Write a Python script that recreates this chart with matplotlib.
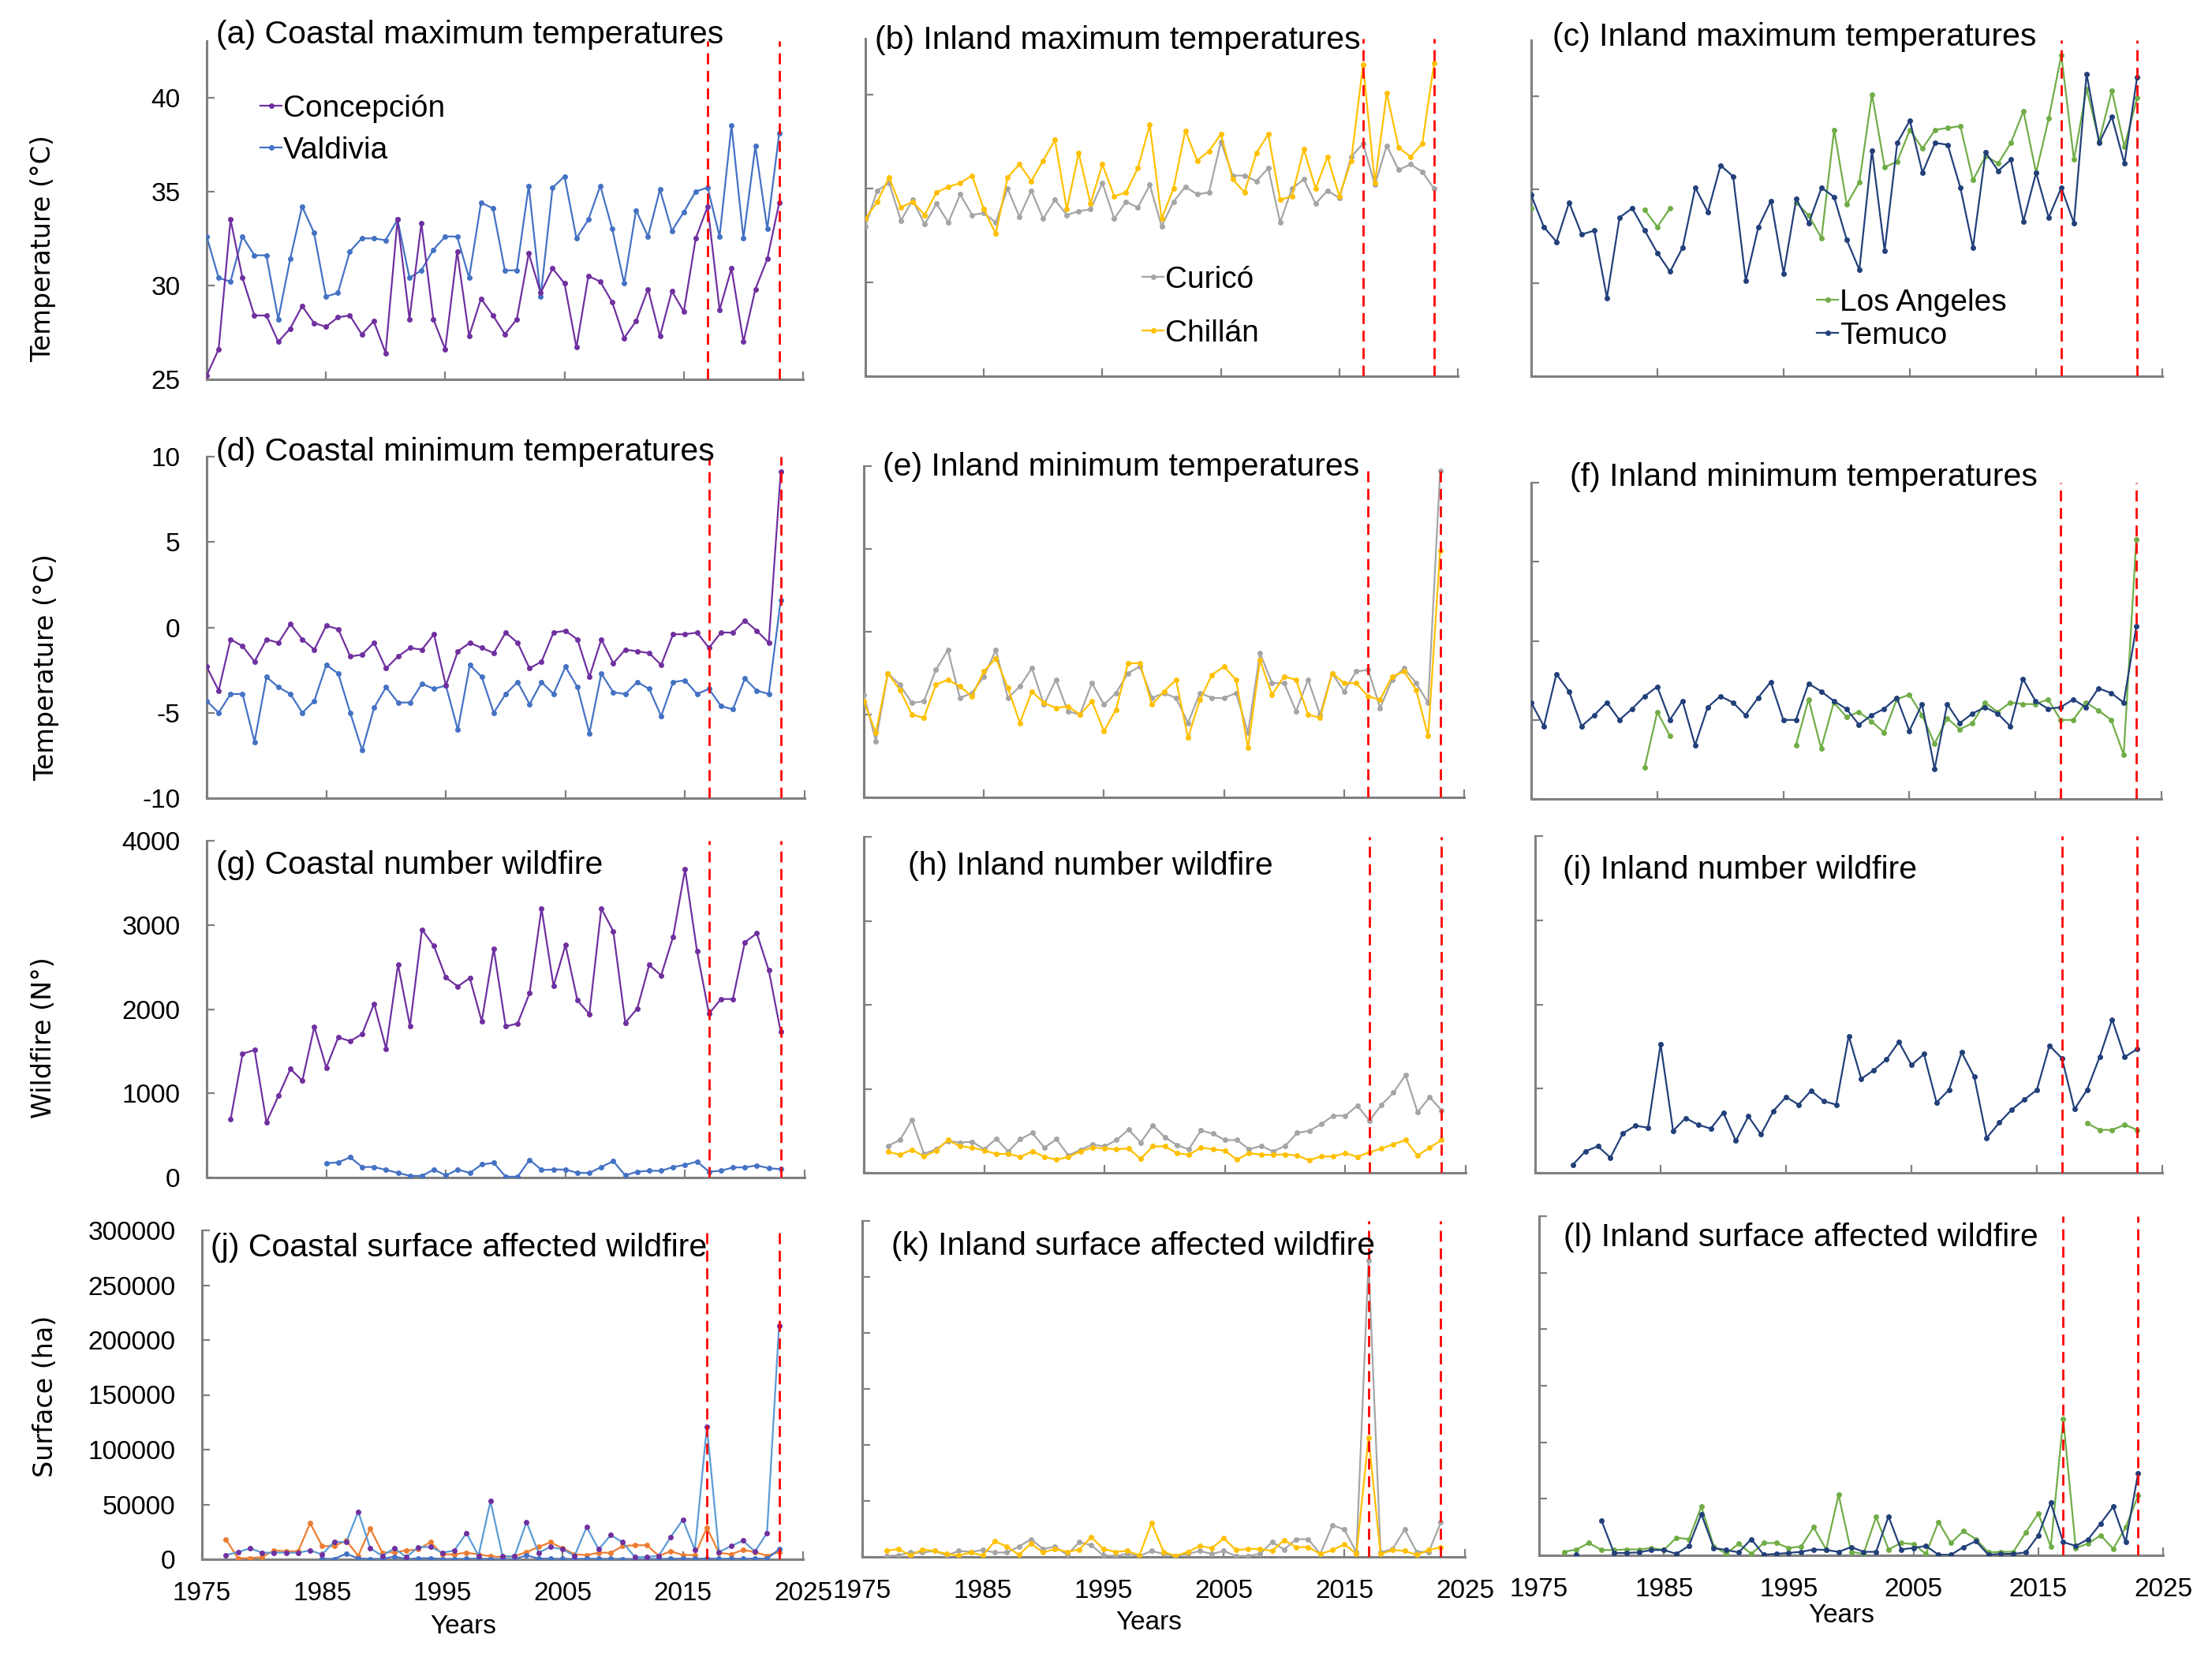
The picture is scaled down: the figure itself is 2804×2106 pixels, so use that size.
import matplotlib
matplotlib.use('agg')
import matplotlib.pyplot as plt
import numpy as np

plt.rcParams['font.family'] = ['Liberation Sans', 'DejaVu Sans']

nan = float('nan')
years = np.arange(1975, 2024)

# ---- maximum temperatures (1975-2023)
conc_tmax = [25.2, 26.6, 33.5, 30.4, 28.4, 28.4, 27.0, 27.7, 28.9, 28.0,
             27.8, 28.3, 28.4, 27.4, 28.1, 26.4, 33.5, 28.2, 33.3, 28.2,
             26.6, 31.8, 27.3, 29.3, 28.4, 27.4, 28.2, 31.7, 29.6, 30.9,
             30.1, 26.7, 30.5, 30.2, 29.1, 27.2, 28.1, 29.8, 27.3, 29.7,
             28.6, 32.5, 34.2, 28.7, 30.9, 27.0, 29.8, 31.4, 34.4]
vald_tmax = [32.6, 30.4, 30.2, 32.6, 31.6, 31.6, 28.2, 31.4, 34.2, 32.8,
             29.4, 29.6, 31.8, 32.5, 32.5, 32.4, 33.5, 30.4, 30.8, 31.9,
             32.6, 32.6, 30.4, 34.4, 34.1, 30.8, 30.8, 35.3, 29.4, 35.2,
             35.8, 32.5, 33.5, 35.3, 33.0, 30.1, 34.0, 32.6, 35.1, 32.9,
             33.9, 35.0, 35.2, 32.6, 38.5, 32.5, 37.4, 33.0, 38.1]
curi_tmax = [33.0, 34.9, 35.3, 33.3, 34.4, 33.1, 34.2, 33.2, 34.7, 33.6,
             33.7, 33.2, 35.0, 33.5, 34.9, 33.4, 34.4, 33.6, 33.8, 33.9,
             35.3, 33.4, 34.3, 34.0, 35.2, 33.0, 34.3, 35.1, 34.7, 34.8,
             37.5, 35.7, 35.7, 35.4, 36.1, 33.2, 35.0, 35.5, 34.2, 34.9,
             34.5, 36.7, 37.4, 35.2, 37.3, 36.0, 36.3, 35.9, 35.0]
chil_tmax = [33.4, 34.3, 35.6, 34.0, 34.3, 33.6, 34.8, 35.1, 35.3, 35.7,
             33.9, 32.6, 35.6, 36.3, 35.4, 36.5, 37.6, 33.9, 36.9, 34.2,
             36.3, 34.6, 34.8, 36.1, 38.4, 33.4, 35.0, 38.1, 36.5, 37.0,
             37.9, 35.5, 34.8, 36.9, 37.9, 34.4, 34.6, 37.1, 35.0, 36.7,
             34.6, 36.5, 41.6, 35.3, 40.1, 37.2, 36.7, 37.4, 41.7]
temu_tmax = [34.7, 33.0, 32.2, 34.3, 32.6, 32.8, 29.2, 33.5, 34.0, 32.8,
             31.6, 30.6, 31.9, 35.1, 33.8, 36.3, 35.7, 30.1, 33.0, 34.4,
             30.5, 34.5, 33.2, 35.1, 34.6, 32.3, 30.7, 37.1, 31.7, 37.5,
             38.7, 35.9, 37.5, 37.4, 35.1, 31.9, 37.0, 36.0, 36.6, 33.3,
             35.9, 33.5, 35.1, 33.2, 41.2, 37.5, 38.9, 36.4, 41.0]
lang_tmax = [34.0, nan, nan, nan, nan, nan, nan, nan, nan, 33.9,
             33.0, 34.0, nan, nan, nan, nan, nan, nan, nan, nan,
             nan, 34.3, 33.6, 32.4, 38.2, 34.2, 35.4, 40.1, 36.2, 36.5,
             38.2, 37.2, 38.2, 38.3, 38.4, 35.5, 36.8, 36.4, 37.5, 39.2,
             35.9, 38.8, 42.2, 36.6, 40.4, 37.6, 40.3, 37.3, 39.9]

# ---- minimum temperatures (1975-2023)
conc_tmin = [-2.3, -3.7, -0.7, -1.1, -2.0, -0.7, -0.9, 0.2, -0.7, -1.3,
             0.1, -0.1, -1.7, -1.6, -0.9, -2.4, -1.7, -1.2, -1.3, -0.4,
             -3.4, -1.4, -0.9, -1.2, -1.5, -0.3, -0.9, -2.4, -2.0, -0.3,
             -0.2, -0.7, -2.9, -0.7, -2.1, -1.3, -1.4, -1.5, -2.2, -0.4,
             -0.4, -0.3, -1.2, -0.3, -0.3, 0.4, -0.2, -0.9, 9.1]
vald_tmin = [-4.3, -5.0, -3.9, -3.9, -6.7, -2.9, -3.5, -3.9, -5.0, -4.3,
             -2.2, -2.7, -5.0, -7.2, -4.7, -3.5, -4.4, -4.4, -3.3, -3.6,
             -3.4, -6.0, -2.2, -2.9, -5.0, -3.9, -3.2, -4.5, -3.2, -3.9,
             -2.3, -3.5, -6.2, -2.7, -3.8, -3.9, -3.2, -3.6, -5.2, -3.2,
             -3.1, -3.9, -3.6, -4.6, -4.8, -3.0, -3.7, -3.9, 1.6]
curi_tmin = [-3.8, -6.6, -2.5, -3.2, -4.3, -4.2, -2.3, -1.1, -4.0, -3.7,
             -2.7, -1.1, -4.0, -3.3, -2.2, -4.4, -2.9, -4.8, -5.0, -3.1,
             -4.4, -3.7, -2.5, -2.1, -4.0, -3.7, -4.0, -5.5, -3.7, -4.0,
             -4.0, -3.7, -6.1, -1.3, -3.1, -3.1, -4.8, -2.9, -5.0, -2.5,
             -3.6, -2.4, -2.3, -4.6, -2.9, -2.2, -3.1, -4.3, 9.7]
chil_tmin = [-4.2, -6.1, -2.5, -3.5, -5.0, -5.2, -3.2, -2.9, -3.3, -3.9,
             -2.4, -1.6, -3.4, -5.5, -3.6, -4.3, -4.6, -4.5, -5.0, -4.2,
             -6.0, -4.7, -1.9, -1.9, -4.4, -3.6, -2.9, -6.4, -4.1, -2.6,
             -2.1, -2.9, -7.0, -1.7, -3.8, -2.7, -2.9, -5.0, -5.2, -2.5,
             -3.1, -3.1, -3.9, -4.1, -2.7, -2.4, -3.5, -6.3, 4.9]
temu_tmin = [-3.9, -5.4, -2.1, -3.2, -5.4, -4.7, -3.9, -5.0, -4.3, -3.5,
             -2.9, -5.0, -3.8, -6.6, -4.2, -3.5, -3.9, -4.7, -3.6, -2.6,
             -5.0, -5.0, -2.7, -3.2, -3.8, -4.3, -5.3, -4.7, -4.3, -3.6,
             -5.7, -4.0, -8.1, -4.0, -5.2, -4.6, -4.2, -4.6, -5.4, -2.4,
             -3.8, -4.3, -4.2, -3.7, -4.2, -3.0, -3.3, -3.9, 0.9]
lang_tmin = [nan, nan, nan, nan, nan, nan, nan, nan, nan, -8.0,
             -4.5, -6.0, nan, nan, nan, nan, nan, nan, nan, nan,
             nan, -6.6, -3.7, -6.8, -3.9, -4.8, -4.5, -5.1, -5.8, -3.7,
             -3.4, -4.7, -6.5, -4.9, -5.6, -5.2, -3.9, -4.5, -3.9, -4.0,
             -4.0, -3.7, -5.0, -5.0, -3.9, -4.4, -5.0, -7.2, 6.4]

# ---- number of wildfires (first year noted on each list)
conc_fire = [690, 1470, 1515, 655, 970, 1290, 1150, 1790, 1305, 1665,
             1620, 1705, 2065, 1530, 2530, 1800, 2945, 2750, 2375, 2270,
             2370, 1855, 2720, 1795, 1830, 2190, 3195, 2275, 2760, 2105,
             1940, 3195, 2925, 1840, 2005, 2525, 2400, 2860, 3660, 2690,
             1945, 2120, 2120, 2795, 2900, 2460, 1730]            # from 1977
vald_fire = [170, 180, 240, 125, 125, 90, 55, 20, 20, 95,
             25, 95, 55, 155, 175, 10, 10, 210, 90, 95,
             95, 55, 55, 125, 195, 25, 70, 80, 80, 125,
             150, 190, 70, 80, 120, 120, 145, 110, 100]            # from 1985
curi_fire = [320, 390, 630, 225, 280, 380, 360, 370, 280, 405,
             255, 400, 475, 300, 400, 205, 275, 335, 315, 390,
             515, 360, 565, 425, 330, 280, 505, 465, 390, 390,
             280, 320, 255, 320, 475, 500, 580, 680, 680, 800,
             620, 810, 955, 1165, 720, 900, 745]                    # from 1977
chil_fire = [250, 215, 275, 195, 265, 390, 315, 300, 265, 225,
             225, 190, 255, 190, 155, 190, 255, 300, 290, 280,
             290, 165, 315, 315, 235, 215, 300, 280, 265, 155,
             235, 215, 215, 220, 205, 150, 195, 195, 235, 190,
             245, 290, 340, 390, 205, 300, 390]                     # from 1977
temu_fire = [95, 255, 315, 180, 470, 560, 535, 1530, 500, 650,
             570, 525, 715, 380, 670, 455, 735, 900, 810, 975,
             850, 810, 1625, 1115, 1220, 1345, 1555, 1280, 1410, 835,
             985, 1430, 1145, 415, 595, 750, 870, 985, 1510, 1360,
             755, 985, 1375, 1820, 1375, 1470]                      # from 1978
lang_fire = [590, 510, 510, 570, 510]                               # from 2019

# ---- surface affected (ha)
coast_surf_a = [3800, 6500, 10000, 6000, 6000, 6000, 6000, 8000, 4500, 16000,
                15500, 43500, 10000, 3200, 10000, 2000, 11000, 11300, 6000, 8000,
                24000, 3200, 53000, 2700, 2700, 34000, 6000, 11300, 9000, 3200,
                29500, 9000, 22000, 15500, 2000, 2000, 3200, 20500, 36000, 8500,
                121000, 6500, 12000, 17000, 7000, 24000, 213000]    # from 1977
coast_surf_b = [18000, 1000, 1000, 2000, 8000, 7300, 7300, 33000, 12000, 12000,
                17000, 3200, 28000, 6000, 6500, 8000, 9000, 15500, 4500, 4500,
                6000, 4500, 2700, 2000, 2700, 6500, 11300, 15500, 10000, 4500,
                3800, 6000, 6000, 12000, 12800, 12800, 3200, 7300, 3800, 3800,
                28800, 6000, 4500, 8500, 6500, 3200, 6500]          # from 1977
coast_surf_c = [500, 300, 5000, 800, 300, 400, 2500, 200, 800, 1000,
                300, 300, 400, 600, 300, 200, 200, 3500, 600, 500,
                400, 300, 500, 400, 400, 300, 200, 200, 300, 500,
                600, 400, 700, 400, 500, 400, 600, 500, 9000]       # from 1985
curi_surf = [800, 1300, 3900, 3900, 5300, 1300, 5300, 4500, 6100, 3900,
             3900, 9200, 15800, 7100, 9200, 1800, 13200, 10500, 1300, 800,
             2600, 800, 5300, 2600, 800, 2600, 5300, 2600, 5300, 800,
             800, 2600, 13200, 6600, 15800, 15800, 2600, 28200, 24500, 3900,
             264500, 3900, 7100, 24500, 4500, 4500, 30800]          # from 1977
chil_surf = [5300, 7100, 1300, 6600, 5300, 2600, 1300, 3900, 1300, 14000,
             9200, 1800, 12000, 3900, 7100, 4500, 6600, 17600, 7100, 4500,
             5300, 1300, 30300, 4500, 800, 4500, 9700, 7900, 16600, 6100,
             7100, 7100, 5300, 15000, 8700, 8700, 2600, 6100, 11300, 2600,
             106600, 2600, 6100, 5300, 1800, 6100, 8700]            # from 1977
lang_surf = [3100, 5200, 10900, 4700, 4700, 5200, 5200, 6500, 4700, 15600,
             14300, 43000, 7800, 1300, 10400, 1300, 10900, 10900, 6500, 7800,
             24800, 5200, 53500, 3100, 1300, 33900, 5200, 10900, 9900, 1300,
             29500, 10900, 21400, 14300, 2600, 3100, 3100, 20300, 37000, 7800,
             120500, 6500, 10400, 17700, 5700, 24800, 52700]        # from 1977
temu_surf = [500, nan, 30800, 2100, 2100, 2600, 4700, 4700, 1300, 8300,
             36500, 6500, 4700, 2600, 14300, 500, 1300, 2100, 3100, 5200,
             4700, 3100, 7300, 3100, 3100, 34400, 5200, 6500, 8300, 500,
             500, 7300, 12500, 500, 1300, 1300, 2600, 17700, 46400, 11700,
             8300, 14300, 28200, 43000, 11700, 72500]               # from 1978

event_years = [2017, 2023]

PURPLE, BLUE, GREY, GOLD = '#7030A0', '#4472C4', '#A5A5A5', '#FFC000'
GREEN, NAVY, LBLUE, ORANGE = '#70AD47', '#22407A', '#5B9BD5', '#ED7D31'
AXC = '#808080'

W, H = 2804, 2106
fig = plt.figure(figsize=(W / 100, H / 100), dpi=100)


def on_years(vals, start=1975):
    out = np.full(len(years), np.nan)
    out[start - 1975:start - 1975 + len(vals)] = vals
    return out


def panel(x0, x1, ytop, ybot, ylim, yticks, ylabels=None, xlabels=False):
    ax = fig.add_axes([x0 / W, 1 - ybot / H, (x1 - x0) / W, (ybot - ytop) / H])
    ax.patch.set_visible(False)
    ax.set_xlim(1975, 2025)
    ax.set_ylim(*ylim)
    ax.set_xticks(range(1975, 2026, 10))
    ax.set_yticks(yticks)
    for s in ('top', 'right'):
        ax.spines[s].set_visible(False)
    for s in ('left', 'bottom'):
        ax.spines[s].set_color(AXC)
        ax.spines[s].set_linewidth(2.2)
    ax.tick_params(direction='in', length=7, width=1.6, color=AXC, labelsize=24)
    ax.tick_params(axis='x', pad=20)
    ax.tick_params(axis='y', pad=24)
    if not xlabels:
        ax.set_xticklabels([])
    if ylabels is None:
        ax.set_yticklabels([])
    else:
        ax.set_yticklabels(ylabels)
    for yr in event_years:
        ax.axvline(yr, color='#FF0000', lw=2, ls=(0, (5, 3)), zorder=5)
    return ax


def line(ax, y, color, mcolor=None, label=None):
    mc = mcolor or color
    return ax.plot(years, y, color=color, lw=1.6, marker='o', ms=4, mfc=mc,
                   mec=mc, label=label, zorder=3)[0]


def title(x, y, text):
    fig.text(x / W, 1 - y / H, text, fontsize=29.5, ha='left', va='center')


def legend(ax, handles, x, y, spacing):
    ax.legend(handles=handles, loc='upper left', bbox_to_anchor=(x / W, 1 - y / H),
              bbox_transform=fig.transFigure, frameon=False, fontsize=28,
              handlelength=0.7, handletextpad=0.05, borderpad=0,
              borderaxespad=0, labelspacing=spacing, numpoints=1)


def ylab(ax, text, xa, ya):
    ax.set_ylabel(text, family='DejaVu Sans', fontsize=24)
    ax.yaxis.set_label_coords(xa, ya)
    ax.yaxis.label.set_va('center')


def xlab(ax, xa, ya):
    ax.set_xlabel('Years', fontsize=24)
    ax.xaxis.set_label_coords(xa, ya)
    ax.xaxis.label.set_va('center')


t_ticks = [25, 30, 35, 40]
m_ticks = [-10, -5, 0, 5, 10]
f_ticks = [0, 1000, 2000, 3000, 4000]
s_ticks = [0, 50000, 100000, 150000, 200000, 250000, 300000]

# row 1
ax = panel(262, 1018, 52, 481, (25, 43), t_ticks, [str(v) for v in t_ticks])
hv = line(ax, on_years(vald_tmax), BLUE, label='Valdivia')
hc = line(ax, on_years(conc_tmax), PURPLE, label='Concepción')
legend(ax, [hc, hv], 330, 120, 0.43)
ylab(ax, 'Temperature (°C)', -0.274, 0.387)
title(274, 44, '(a) Coastal maximum temperatures')

ax = panel(1097, 1848, 49, 477, (25, 43), t_ticks)
h1 = line(ax, on_years(curi_tmax), GREY, label='Curicó')
h2 = line(ax, on_years(chil_tmax), GOLD, label='Chillán')
legend(ax, [h1, h2], 1448, 337, 0.82)
title(1109, 51, '(b) Inland maximum temperatures')

ax = panel(1941, 2741, 51, 477, (25, 43), t_ticks)
h1 = line(ax, on_years(lang_tmax), GREEN, label='Los Angeles')
h2 = line(ax, on_years(temu_tmax), NAVY, label='Temuco')
legend(ax, [h1, h2], 2303, 366, 0.15)
title(1968, 47, '(c) Inland maximum temperatures')

# row 2
ax = panel(262, 1020, 579, 1012, (-10, 10), m_ticks, [str(v) for v in m_ticks])
line(ax, on_years(vald_tmin), BLUE)
line(ax, on_years(conc_tmin), PURPLE)
ylab(ax, 'Temperature (°C)', -0.268, 0.383)
title(274, 573, '(d) Coastal minimum temperatures')

ax = panel(1095, 1856, 591, 1011, (-10, 10), m_ticks)
line(ax, on_years(curi_tmin), GREY)
line(ax, on_years(chil_tmin), GOLD)
title(1119, 592, '(e) Inland minimum temperatures')

ax = panel(1941, 2740, 612, 1013, (-10, 10), m_ticks)
line(ax, on_years(lang_tmin), GREEN)
line(ax, on_years(temu_tmin), NAVY)
title(1990, 605, '(f) Inland minimum temperatures')

# row 3
ax = panel(262, 1020, 1066, 1493, (0, 4000), f_ticks, [str(v) for v in f_ticks])
line(ax, on_years(vald_fire, 1985), BLUE)
line(ax, on_years(conc_fire, 1977), PURPLE)
ylab(ax, 'Wildfire (N°)', -0.273, 0.415)
title(274, 1097, '(g) Coastal number wildfire')

ax = panel(1095, 1858, 1061, 1487, (0, 4000), f_ticks)
line(ax, on_years(curi_fire, 1977), GREY)
line(ax, on_years(chil_fire, 1977), GOLD)
title(1151, 1098, '(h) Inland number wildfire')

ax = panel(1946, 2741, 1060, 1487, (0, 4000), f_ticks)
line(ax, on_years(temu_fire, 1978), NAVY)
line(ax, on_years(lang_fire, 2019), GREEN)
title(1981, 1103, '(i) Inland number wildfire')

# row 4
ax = panel(256, 1018, 1560, 1977, (0, 300000), s_ticks,
           [str(v) for v in s_ticks], xlabels=True)
line(ax, on_years(coast_surf_b, 1977), ORANGE)
line(ax, on_years(coast_surf_c, 1985), BLUE)
line(ax, on_years(coast_surf_a, 1977), LBLUE, PURPLE)
ylab(ax, 'Surface (ha)', -0.261, 0.496)
xlab(ax, 0.434, -0.204)
title(267, 1582, '(j) Coastal surface affected wildfire')

ax = panel(1093, 1857, 1548, 1974, (0, 300000), s_ticks, xlabels=True)
line(ax, on_years(curi_surf, 1977), GREY)
line(ax, on_years(chil_surf, 1977), GOLD)
xlab(ax, 0.476, -0.197)
title(1130, 1580, '(k) Inland surface affected wildfire')

ax = panel(1951, 2742, 1542, 1972, (0, 300000), s_ticks, xlabels=True)
line(ax, on_years(lang_surf, 1977), GREEN)
line(ax, on_years(temu_surf, 1978), NAVY)
xlab(ax, 0.484, -0.179)
title(1982, 1569, '(l) Inland surface affected wildfire')

fig.savefig('out.png', dpi=100)
